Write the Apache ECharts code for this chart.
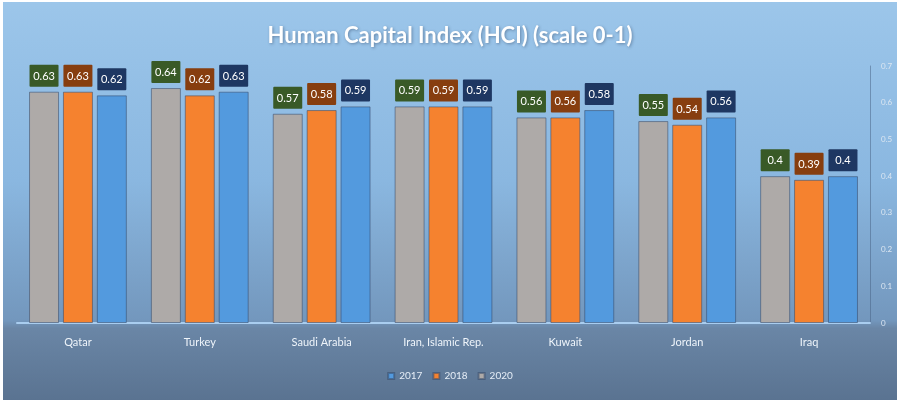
<!DOCTYPE html>
<html>
<head>
<meta charset="utf-8">
<script src="https://cdn.jsdelivr.net/npm/echarts@6/dist/echarts.min.js"></script>
<style>
  html, body { margin: 0; padding: 0; background: #ffffff; }
  #chart { position: absolute; left: 3px; top: 2px; width: 894px; height: 398px; }
</style>
</head>
<body>
<div id="chart"></div>
<script>
// countries on the x axis
var countries = ['Qatar', 'Turkey', 'Saudi Arabia', 'Iran, Islamic Rep.', 'Kuwait', 'Jordan', 'Iraq'];
// HCI values (left bar, middle bar, right bar)
var hci2020 = [0.63, 0.64, 0.57, 0.59, 0.56, 0.55, 0.4];
var hci2018 = [0.63, 0.62, 0.58, 0.59, 0.56, 0.54, 0.39];
var hci2017 = [0.62, 0.63, 0.59, 0.59, 0.58, 0.56, 0.4];
var legendNames = ['2017', '2018', '2020'];
var yTicks = [0, 0.1, 0.2, 0.3, 0.4, 0.5, 0.6, 0.7];

var font = 'Lato, "Open Sans", sans-serif';

function makeBar(name, data, color, labelBg){
	return {
		name : name,
		type : 'bar',
		data : data,
		barWidth : 30,
		barGap : '13%',
		itemStyle : {
			color : color,
			borderColor : 'rgba(55,75,105,0.55)',
			borderWidth : 1
		},
		label : {
			show : true,
			position : 'top',
			distance : 5,
			color : '#ffffff',
			fontFamily : font,
			fontSize : 11,
			backgroundColor : labelBg,
			padding : [6, 4, 5, 4],
			borderRadius : 1,
			width : 21,
			align : 'center'
		}
	};
}

var chart = echarts.init(document.getElementById('chart'), null, {renderer : 'canvas'});

var option = {
	animation : false,
	backgroundColor : {
		type : 'linear', x : 0, y : 0, x2 : 0, y2 : 1,
		colorStops : [
			{offset : 0, color : '#9cc6ea'},
			{offset : 0.45, color : '#8ab7e0'},
			{offset : 0.8, color : '#7397bd'},
			{offset : 0.82, color : '#6a86a6'},
			{offset : 1, color : '#5a7391'}
		]
	},
	title : {
		text : 'Human Capital Index (HCI) (scale 0-1)',
		left : 'center',
		top : 18,
		textStyle : {
			color : '#ffffff',
			fontFamily : font,
			fontSize : 22,
			fontWeight : 'bold',
			textShadowColor : 'rgba(40,60,90,0.45)',
			textShadowBlur : 3,
			textShadowOffsetX : 1,
			textShadowOffsetY : 1
		}
	},
	legend : {
		data : legendNames,
		bottom : 14,
		left : 'center',
		itemWidth : 6,
		itemHeight : 6,
		itemGap : 10,
		icon : 'rect',
		textStyle : {color : '#e6eef7', fontFamily : font, fontSize : 10}
	},
	grid : {
		left : 14,
		right : 27,
		top : 64,
		bottom : 77,
		containLabel : false
	},
	xAxis : {
		type : 'category',
		data : countries,
		axisLine : {lineStyle : {color : '#a9cdef', width : 2}},
		axisTick : {show : false},
		axisLabel : {color : '#eef4fa', fontFamily : font, fontSize : 11, margin : 14}
	},
	yAxis : {
		type : 'value',
		position : 'right',
		min : yTicks[0],
		max : yTicks[yTicks.length - 1],
		interval : 0.1,
		axisLine : {show : true, lineStyle : {color : 'rgba(70,95,130,0.5)'}},
		axisTick : {show : false},
		splitLine : {show : false},
		axisLabel : {color : '#dbe6f1', fontFamily : font, fontSize : 8, margin : 11}
	},
	series : [
		makeBar('2020', hci2020, '#aeaaa8', '#395a27'),
		makeBar('2018', hci2018, '#f5822f', '#873e0f'),
		makeBar('2017', hci2017, '#539ade', '#1e3762')
	]
};
chart.setOption(option);
</script>
</body>
</html>
